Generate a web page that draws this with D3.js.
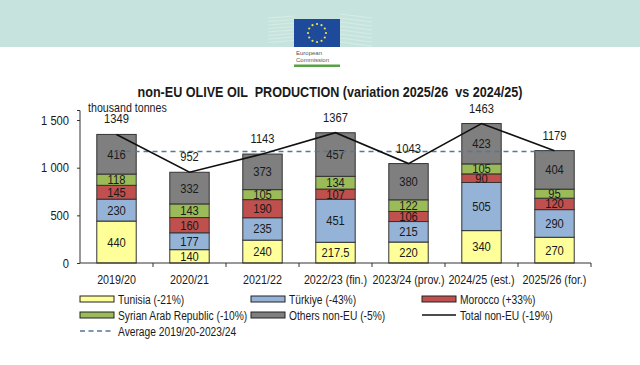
<!DOCTYPE html>
<html>
<head>
<meta charset="utf-8">
<script src="https://cdn.jsdelivr.net/npm/d3@7"></script>
<style>
  body { margin: 0; background: #ffffff; }
  svg text { font-family: "Liberation Sans", Arial, sans-serif; fill: #1a1a1a; transform-box: fill-box; }
  svg text.nar-m { transform: scaleX(0.86); transform-origin: center; }
  svg text.nar-t { transform: scaleX(0.9); transform-origin: center; white-space: pre; }
  svg text.nar-s { transform: scaleX(0.82); transform-origin: left center; }
  svg text.nar-e { transform: scaleX(0.86); transform-origin: right center; }
</style>
</head>
<body>
<div id="chart"></div>
<script>
let seasons = ['2019/20', '2020/21', '2021/22', '2022/23 (fin.)', '2023/24 (prov.)', '2024/25 (est.)', '2025/26 (for.)']
let tunisia = [440, 140, 240, 217.5, 220, 340, 270]
let turkiye = [230, 177, 235, 451, 215, 505, 290]
let morocco = [145, 160, 190, 107, 106, 90, 120]
let syria = [118, 143, 105, 134, 122, 105, 95]
let others = [416, 332, 373, 457, 380, 423, 404]
let totals = [1349, 952, 1143, 1367, 1043, 1463, 1179]
let yTicks = [0, 500, 1000, 1500]
let seriesNames = ['Tunisia (-21%)', 'Türkiye (-43%)', 'Morocco (+33%)', 'Syrian Arab Republic (-10%)', 'Others non-EU (-5%)']
let seriesColors = ['#ffff99', '#95b3d7', '#c0504d', '#9bbb59', '#7f7f7f']
let totalName = 'Total non-EU (-19%)'
let averageName = 'Average 2019/20-2023/24'

let width = 640
let height = 365

let svg = d3.select('#chart')
  .append('svg')
  .attr('width', width)
  .attr('height', height)

// header banner with logo
svg.append('rect')
  .attr('width', width)
  .attr('height', 47)
  .attr('fill', '#c6e4dd')
let building = svg.append('g').attr('stroke', '#e4f2ee').attr('stroke-width', 0.7).attr('opacity', 0.8)
d3.range(8).forEach(function (i) {
  building.append('line')
    .attr('x1', 268).attr('x2', 294)
    .attr('y1', 18 + i * 3.5).attr('y2', 16 + i * 3.5)
  building.append('line')
    .attr('x1', 340).attr('x2', 372)
    .attr('y1', 14 + i * 4).attr('y2', 18 + i * 4)
})
svg.append('rect')
  .attr('x', 294).attr('y', 47).attr('width', 46).attr('height', 20)
  .attr('fill', '#ffffff')
svg.append('rect')
  .attr('x', 294).attr('y', 19).attr('width', 46).attr('height', 28)
  .attr('fill', '#1d4a9b')
svg.append('rect')
  .attr('x', 294).attr('y', 64.5).attr('width', 46).attr('height', 2.5)
  .attr('fill', '#58a244')
d3.range(12).forEach(function (i) {
  let a = i * Math.PI / 6
  svg.append('circle')
    .attr('cx', 317 + 9 * Math.cos(a))
    .attr('cy', 33 + 9 * Math.sin(a))
    .attr('r', 1.1)
    .attr('fill', '#f5e33a')
})
svg.append('text').attr('x', 296).attr('y', 55).style('font-size', '6px').style('fill', '#555').text('European')
svg.append('text').attr('x', 296).attr('y', 62).style('font-size', '6px').style('fill', '#555').text('Commission')

// chart
let x = d3.scaleBand()
  .domain(seasons)
  .range([80, 591])
  .padding(0)
let barW = x.bandwidth() * 0.54
let y = d3.scaleLinear()
  .domain([0, 1600])
  .range([263, 110.5])

let stackData = seasons.map(function (s, i) {
  return { season: s, s0: tunisia[i], s1: turkiye[i], s2: morocco[i], s3: syria[i], s4: others[i] }
})
let stack = d3.stack().keys(['s0', 's1', 's2', 's3', 's4'])
let layers = stack(stackData)

svg.append('text')
  .attr('class', 'nar-t')
  .attr('x', 330)
  .attr('y', 97)
  .attr('text-anchor', 'middle')
  .style('font-size', '14px')
  .style('font-weight', 'bold')
  .text('non-EU OLIVE OIL  PRODUCTION (variation 2025/26  vs 2024/25)')

svg.append('text')
  .attr('class', 'nar-s')
  .attr('x', 88)
  .attr('y', 112)
  .style('font-size', '13px')
  .text('thousand tonnes')

let layerG = svg.append('g')
  .selectAll('g')
  .data(layers)
  .enter()
  .append('g')
  .attr('fill', function (d, i) { return seriesColors[i] })

layerG.selectAll('rect')
  .data(function (d) { return d })
  .enter()
  .append('rect')
  .attr('x', function (d) { return x(d.data.season) + (x.bandwidth() - barW) / 2 })
  .attr('y', function (d) { return y(d[1]) })
  .attr('width', barW)
  .attr('height', function (d) { return y(d[0]) - y(d[1]) })
  .attr('stroke', '#333333')
  .attr('stroke-width', 1)

layerG.selectAll('text')
  .data(function (d) { return d })
  .enter()
  .append('text')
  .attr('class', 'nar-m')
  .attr('x', function (d) { return x(d.data.season) + x.bandwidth() / 2 })
  .attr('y', function (d) { return (y(d[0]) + y(d[1])) / 2 + 4.5 })
  .attr('text-anchor', 'middle')
  .style('font-size', '13px')
  .text(function (d) { return d[1] - d[0] })

// axes
let yAxis = d3.axisLeft(y)
  .tickValues(yTicks)
  .tickSize(3)
  .tickPadding(8)
  .tickFormat(function (d) { return d3.format(',')(d).replace(',', ' ') })
let yG = svg.append('g').attr('transform', 'translate(80,0)').call(yAxis)
yG.select('.domain').attr('stroke', '#333').attr('d', 'M-3,' + y(1600) + 'H0V' + y(0) + 'H0')
yG.selectAll('line').attr('stroke', '#333')
yG.selectAll('text')
  .attr('class', 'nar-e')
  .style('font-size', '13px')
  .style('font-family', null)
  .attr('fill', '#1a1a1a')

let xG = svg.append('g').attr('transform', 'translate(0,263)')
xG.append('line')
  .attr('x1', 80).attr('x2', 591)
  .attr('stroke', '#333')
xG.selectAll('line.tick')
  .data(seasons)
  .enter()
  .append('line')
  .attr('class', 'tick')
  .attr('x1', function (d) { return x(d) + x.bandwidth() })
  .attr('x2', function (d) { return x(d) + x.bandwidth() })
  .attr('y1', 0).attr('y2', 4)
  .attr('stroke', '#333')
xG.selectAll('text')
  .data(seasons)
  .enter()
  .append('text')
  .attr('class', 'nar-m')
  .attr('x', function (d) { return x(d) + x.bandwidth() / 2 })
  .attr('y', 21)
  .attr('text-anchor', 'middle')
  .style('font-size', '12.5px')
  .text(function (d) { return d })

// average line
let average = d3.mean(totals.slice(0, 5))
svg.append('line')
  .attr('x1', x(seasons[0]) + x.bandwidth() / 2)
  .attr('x2', x(seasons[6]) + x.bandwidth() / 2)
  .attr('y1', y(average))
  .attr('y2', y(average))
  .attr('stroke', '#557799')
  .attr('stroke-width', 1.5)
  .attr('stroke-dasharray', '5,4')

// total line
let line = d3.line()
  .x(function (d, i) { return x(seasons[i]) + x.bandwidth() / 2 })
  .y(function (d) { return y(d) })
svg.append('path')
  .datum(totals)
  .attr('d', line)
  .attr('fill', 'none')
  .attr('stroke', '#111')
  .attr('stroke-width', 1.6)

svg.append('g')
  .selectAll('text')
  .data(totals)
  .enter()
  .append('text')
  .attr('class', 'nar-m')
  .attr('x', function (d, i) { return x(seasons[i]) + x.bandwidth() / 2 })
  .attr('y', function (d) { return y(d) - 11 })
  .attr('text-anchor', 'middle')
  .style('font-size', '13px')
  .text(function (d) { return d })

// legend
let legendItems = seriesNames.map(function (n, i) { return { name: n, color: seriesColors[i], type: 'box' } })
legendItems.push({ name: totalName, type: 'line' })
legendItems.push({ name: averageName, type: 'dash' })
let colX = [80, 251, 422]
let rowY = [299, 315, 331]
let legend = svg.append('g')
  .selectAll('g')
  .data(legendItems)
  .enter()
  .append('g')
  .attr('transform', function (d, i) { return 'translate(' + colX[i % 3] + ',' + rowY[Math.floor(i / 3)] + ')' })
legend.filter(function (d) { return d.type === 'box' })
  .append('rect')
  .attr('x', 0).attr('y', -3).attr('width', 34).attr('height', 6)
  .attr('fill', function (d) { return d.color })
  .attr('stroke', '#222')
legend.filter(function (d) { return d.type !== 'box' })
  .append('line')
  .attr('x1', 0).attr('x2', 34)
  .attr('stroke', function (d) { return d.type === 'line' ? '#111' : '#557799' })
  .attr('stroke-width', 1.4)
  .attr('stroke-dasharray', function (d) { return d.type === 'dash' ? '5,3.5' : null })
legend.append('text')
  .attr('class', 'nar-s')
  .attr('x', 38)
  .attr('y', 4.5)
  .style('font-size', '12.5px')
  .text(function (d) { return d.name })
</script>
</body>
</html>
